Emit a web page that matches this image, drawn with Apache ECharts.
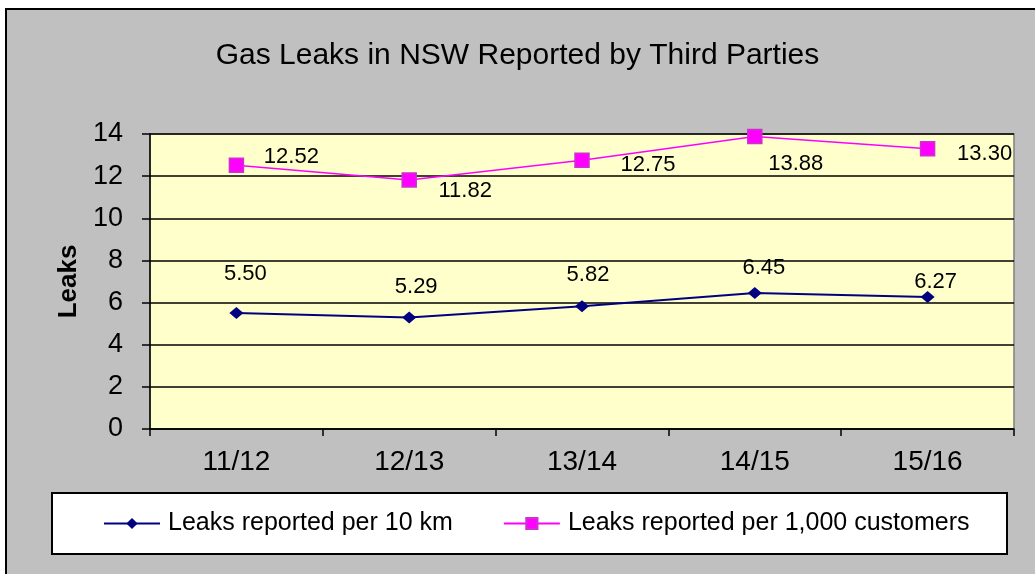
<!DOCTYPE html>
<html>
<head>
<meta charset="utf-8">
<script src="https://cdn.jsdelivr.net/npm/echarts@6/dist/echarts.min.js"></script>
<style>
  html, body { margin: 0; padding: 0; background: #fff; }
  #chart { width: 1035px; height: 574px; }
</style>
</head>
<body>
<div id="chart"></div>
<script>
  var periods = ['11/12', '12/13', '13/14', '14/15', '15/16'];
  var per10km = [5.50, 5.29, 5.82, 6.45, 6.27];
  var per1000 = [12.52, 11.82, 12.75, 13.88, 13.30];
  var yTicks = [0, 2, 4, 6, 8, 10, 12, 14];

  // label placement like the excel original (centre offset from the point)
  var offsBlue = [[9, -39], [7, -31], [6, -31], [9, -25], [8, -15]];
  var offsPink = [[55, -8], [56, 11], [66, 5], [41, 27], [57, 5]];

  function withLabels(vals, offs) {
    return vals.map(function (v, i) {
      return { value: v, label: { offset: offs[i] } };
    });
  }

  var font = 'Arial, "Liberation Sans", sans-serif';
  var chart = echarts.init(document.getElementById('chart'));

  var option = {
    backgroundColor: '#ffffff',
    animation: false,
    graphic: [
      {
        type: 'rect', z: -10,
        shape: { x: 6, y: 9, width: 1040, height: 580 },
        style: { fill: '#c0c0c0', stroke: '#000', lineWidth: 2 }
      },
      {
        // legend box
        type: 'rect', z: -5,
        shape: { x: 52, y: 493, width: 955, height: 61 },
        style: { fill: '#fff', stroke: '#000', lineWidth: 2 }
      }
    ],
    title: {
      text: 'Gas Leaks in NSW Reported by Third Parties',
      left: 'center',
      top: 36,
      textStyle: { fontFamily: font, fontSize: 30, fontWeight: 'normal', color: '#000' }
    },
    grid: {
      left: 150, top: 134, width: 864, height: 295,
      show: true,
      backgroundColor: '#ffffcc',
      borderColor: '#808080',
      borderWidth: 1.5
    },
    legend: {
      left: 103, top: 511,
      padding: 0,
      itemWidth: 56, itemHeight: 14, itemGap: 50,
      textStyle: { fontFamily: font, fontSize: 25, color: '#000', padding: [0, 0, 0, 3] },
      data: ['Leaks reported per 10 km', 'Leaks reported per 1,000 customers']
    },
    xAxis: {
      type: 'category',
      data: periods,
      boundaryGap: true,
      axisLine: { lineStyle: { color: '#000', width: 1.5 } },
      axisTick: { show: true, length: 7, lineStyle: { color: '#000', width: 1.5 } },
      axisLabel: { fontFamily: font, fontSize: 28, color: '#000', margin: 19 },
      splitLine: { show: false }
    },
    yAxis: {
      type: 'value',
      min: yTicks[0], max: yTicks[yTicks.length - 1], interval: 2,
      name: 'Leaks',
      nameLocation: 'middle',
      nameRotate: 90,
      nameGap: 68,
      nameTextStyle: { fontFamily: font, fontSize: 26, fontWeight: 'bold', color: '#000' },
      axisLine: { show: true, lineStyle: { color: '#000', width: 1.5 } },
      axisTick: { show: true, length: 8, lineStyle: { color: '#000', width: 1.5 } },
      axisLabel: { fontFamily: font, fontSize: 27, color: '#000', margin: 27 },
      splitLine: { show: true, lineStyle: { color: '#000', width: 1.5 } }
    },
    series: [
      {
        name: 'Leaks reported per 10 km',
        type: 'line',
        data: withLabels(per10km, offsBlue),
        symbol: 'diamond',
        symbolSize: [14, 12],
        lineStyle: { color: '#000080', width: 2 },
        itemStyle: { color: '#000080' },
        label: {
          show: true, position: 'inside',
          formatter: function (p) { return p.value.toFixed(2); },
          fontFamily: font, fontSize: 22, color: '#000'
        }
      },
      {
        name: 'Leaks reported per 1,000 customers',
        type: 'line',
        data: withLabels(per1000, offsPink),
        symbol: 'rect',
        symbolSize: 14,
        lineStyle: { color: '#ff00ff', width: 1.5 },
        itemStyle: { color: '#ff00ff', borderColor: '#cc33cc', borderWidth: 1.5 },
        label: {
          show: true, position: 'inside',
          formatter: function (p) { return p.value.toFixed(2); },
          fontFamily: font, fontSize: 22, color: '#000'
        }
      }
    ]
  };

  chart.setOption(option);
</script>
</body>
</html>
